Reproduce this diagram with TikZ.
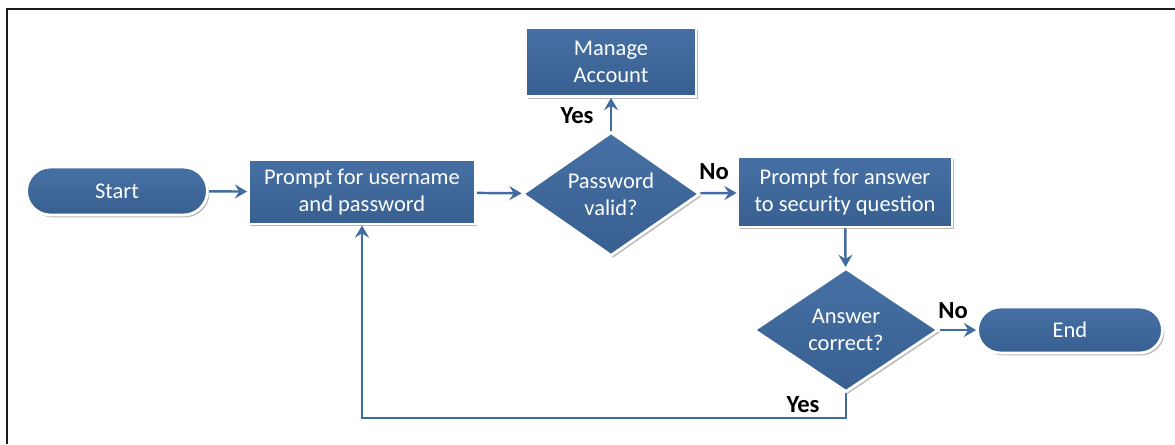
\documentclass[tikz,border=0pt]{standalone}
\usepackage{fontspec}
\setmainfont{Carlito}
\usepackage{tikz}
\usetikzlibrary{shapes,arrows.meta,positioning,calc,shadows}
\definecolor{boxtop}{RGB}{70,112,164}
\definecolor{boxbot}{RGB}{56,95,144}
\definecolor{flowline}{RGB}{65,108,162}
\definecolor{framek}{RGB}{28,28,22}

\tikzset{
  base/.style={draw=white, line width=1.6pt,
    drop shadow={shadow xshift=1.1pt, shadow yshift=-1.3pt, fill=gray!55, opacity=1},
    top color=boxtop, bottom color=boxbot, text=white, align=center, inner sep=0pt,
    font=\fontsize{12.8}{15.2}\selectfont},
  proc/.style={base, rectangle},
  term/.style={base, rounded rectangle},
  decision/.style={base, diamond, aspect=1.44},
  flow/.style={draw=flowline, line width=1.4pt, -{Stealth[length=7pt,width=8pt,inset=2.5pt]}},
  lbl/.style={font=\fontsize{14}{16}\selectfont\bfseries, text=black},
}

\begin{document}
\begin{tikzpicture}[x=0.02cm,y=-0.02cm]
    \useasboundingbox (0,0) rectangle (1175,444);
    % Frame, only top and left edges.
    \draw[framek, line width=1.6pt] (7,444) -- (7,9) -- (1175,9);

    % Nodes.
    \node[term, minimum width=3.62cm, minimum height=0.96cm] (start) at (117,191) {Start};
    \node[proc, minimum width=4.54cm, minimum height=1.28cm] (login) at (362,192) {Prompt for username\\and password};
    \node[decision, minimum width=3.56cm, minimum height=2.48cm] (valid) at (611,194) {Password\\valid?};
    \node[proc, minimum width=3.4cm, minimum height=1.38cm] (manage) at (611,62) {Manage\\Account};
    \node[proc, minimum width=4.28cm, minimum height=1.4cm] (secq) at (845,192) {Prompt for answer\\to security question};
    \node[decision, minimum width=3.7cm, minimum height=2.48cm] (correct) at (846,330) {Answer\\correct?};
    \node[term, minimum width=3.7cm, minimum height=0.92cm] (end) at (1070,330) {End};
    \coordinate (loop) at (846,418);

    % Connectors.
    \draw[flow] (start) -- (login);
    \draw[flow] (login) -- (valid);
    \draw[flow] (valid) -- (manage);
    \draw[flow] (valid) -- (secq);
    \draw[flow] (secq) -- (correct);
    \draw[flow] (correct) -- (end);
    \draw[flow] (correct.south) -- (loop) -| (login.south);

    % Branch labels.
    \node[lbl] (yesmanage) at (577,116) {Yes};
    \node[lbl] (nosecq) at (714,172) {No};
    \node[lbl] (noend) at (953,311) {No};
    \node[lbl] (yesloop) at (803,405) {Yes};
  \end{tikzpicture}
\end{document}
